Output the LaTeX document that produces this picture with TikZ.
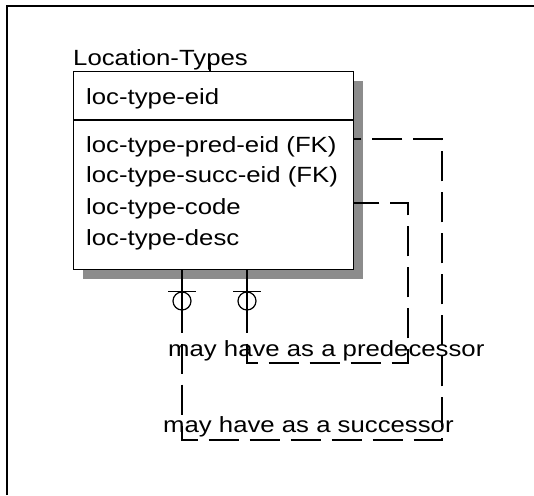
\documentclass[tikz,border=0pt]{standalone}
\usepackage{fontspec}
\setmainfont{Liberation Sans}[FakeStretch=1.17]
\usetikzlibrary{positioning,shadows}

\newcommand{\erfont}{\fontsize{22}{26}\selectfont}

\begin{document}
\begin{tikzpicture}[x=1pt, y=-1pt,
    entbox/.style={draw=black, fill=white, line width=1.3pt, inner sep=0pt,
        drop shadow={shadow xshift=9pt, shadow yshift=-9pt, fill=black!45, opacity=1}},
    attr/.style={font=\erfont, anchor=base west, inner sep=0pt},
    rel/.style={draw=black, line width=1.2pt, dash pattern=on 30pt off 11pt},
    zeroone/.style={circle, draw=black, line width=1.2pt, minimum size=18pt, inner sep=0pt}
    ]
        \useasboundingbox (0,0) rectangle (534,495);
        %Frame
        \draw[line width=2pt] (6.5,495) -- (6.5,6.5) -- (534,6.5);

        %Entity
        \node[attr] (title) at (73,65) {Location-Types};
        \node[entbox, minimum width=280pt, minimum height=198pt, anchor=north west]
            (loctype) at (73,71) {};
        \coordinate (titletick) at (210,62);
        \draw[line width=1.2pt] (titletick) -- (titletick |- loctype.north);
        \draw[line width=1.3pt] ([yshift=-49pt]loctype.north west) -- ([yshift=-49pt]loctype.north east);
        \node[attr] (eid)  at (86,104) {loc-type-eid};
        \node[attr] (pred) at (86,152) {loc-type-pred-eid (FK)};
        \node[attr] (succ) at (86,182) {loc-type-succ-eid (FK)};
        \node[attr] (code) at (86,214) {loc-type-code};
        \node[attr] (desc) at (86,245) {loc-type-desc};

        %Relationship ends
        \node[zeroone] (sucend) at (182,301) {};
        \node[zeroone] (preend) at (247,301) {};
        \foreach \e in {sucend,preend} {
            \draw[line width=1.2pt] ([xshift=-14pt]\e.north) -- ([xshift=14pt]\e.north);
            \draw[line width=1.2pt] (\e.south) -- (\e.south |- loctype.south);
        }

        %Corners of the dashed lines
        \coordinate (suc1) at (182,440);
        \coordinate (suc2) at (442,440);
        \coordinate (suc3) at (442,139);
        \coordinate (pre1) at (247,363);
        \coordinate (pre2) at (408,363);
        \coordinate (pre3) at (408,203);

        %Lines
        \draw[rel] ([yshift=8pt]sucend.south) -- (suc1) -- (suc2) -- (suc3) -- (suc3 -| loctype.east);
        \draw[rel] ([yshift=8pt]preend.south) -- (pre1) -- (pre2) -- (pre3) -- (pre3 -| loctype.east);

        %Labels
        \node[attr] (predlbl) at (168,356) {may have as a predecessor};
        \node[attr] (succlbl) at (163,432) {may have as a successor};
    \end{tikzpicture}
\end{document}
